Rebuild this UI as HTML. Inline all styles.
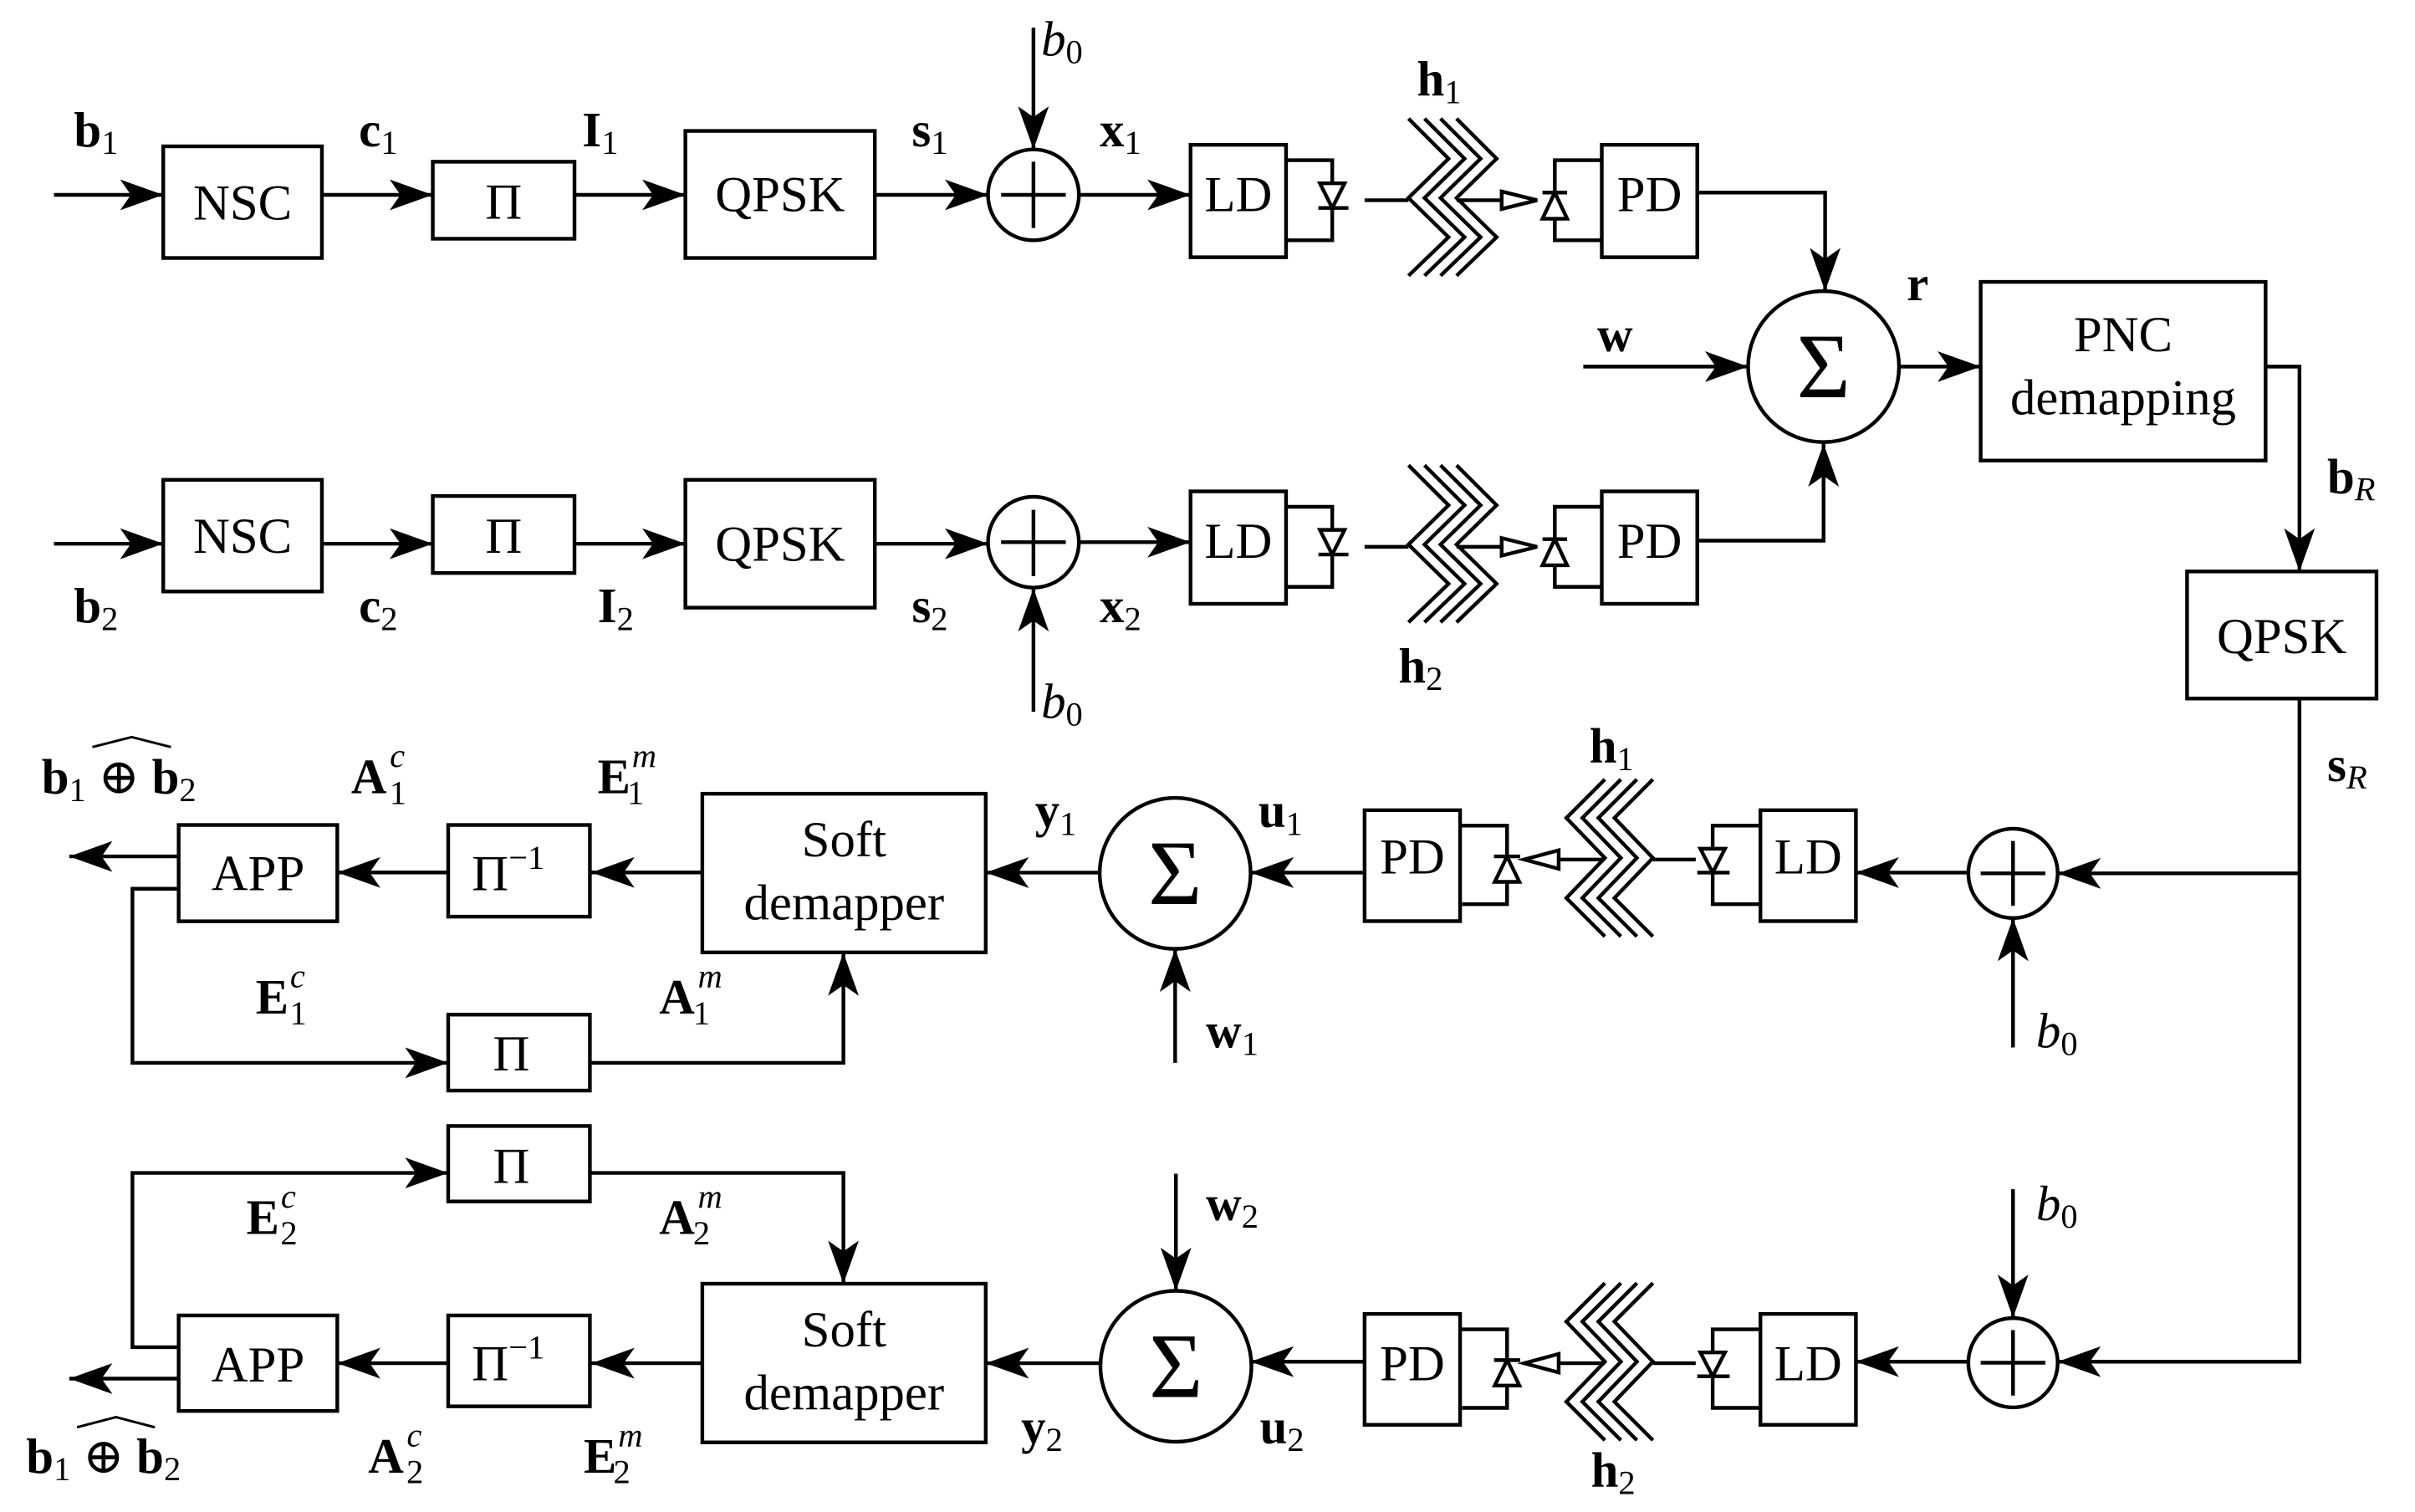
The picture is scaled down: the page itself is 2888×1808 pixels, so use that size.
<!DOCTYPE html>
<html><head><meta charset="utf-8"><style>
html,body{margin:0;padding:0;background:#fff;}
svg{display:block;}
svg text, svg tspan{font-family:"Liberation Serif","Times New Roman","DejaVu Serif",serif;fill:#000;}
.bx{font-size:33px;text-anchor:middle;}
.lb{font-size:32px;}
.b{font-weight:bold;}
.s{font-size:22px;}
.it{font-style:italic;}
</style></head><body>
<svg width="2888" height="1808" viewBox="0 0 1568 981.6" preserveAspectRatio="none" xmlns="http://www.w3.org/2000/svg" font-family="Liberation Serif, Times New Roman, DejaVu Serif, serif">
<defs>
<marker id="a" viewBox="-30 -12 32 24" refX="0" refY="0" markerWidth="32" markerHeight="24" orient="auto" markerUnits="userSpaceOnUse">
<path d="M0,0 L-28,-10 L-21,0 L-28,10 Z" fill="#000"/>
</marker>
<g id="blk1">
<rect x="773" y="94" width="62" height="73"/>
<polyline points="835,104 865,104 865,156 835,156"/>
<polygon points="857,119 873,119 865,135" fill="#fff"/>
<line x1="856" y1="135" x2="875.5" y2="135"/>
<line x1="886" y1="130" x2="914.5" y2="130"/>
<polyline points="914.5,77 940.5,103 914.5,128.5 940.5,154 914.5,179"/>
<polyline points="924.9,77 950.9,103 924.9,128.5 950.9,154 924.9,179"/>
<polyline points="935.3,77 961.3,103 935.3,128.5 961.3,154 935.3,179"/>
<polyline points="945.7,77 971.7,103 945.7,128.5 971.7,154 945.7,179"/>
<line x1="945.7" y1="130" x2="975" y2="130"/>
<polygon points="975,124.3 998,130 975,135.7" fill="#fff"/>
<polyline points="1040,104 1009.5,104 1009.5,156 1040,156"/>
<line x1="1001.5" y1="125" x2="1017.5" y2="125"/>
<polygon points="1001.5,142 1017.5,142 1009.5,125" fill="#fff"/>
<rect x="1040" y="94" width="62" height="73"/>
</g>
<g id="blk3">
<rect x="1143" y="526" width="62" height="72"/>
<polyline points="1143,536 1112,536 1112,587 1143,587"/>
<polygon points="1104,551 1120,551 1112,566.5" fill="#fff"/>
<line x1="1102" y1="566.5" x2="1123" y2="566.5"/>
<line x1="1101" y1="558" x2="1073.2" y2="558"/>
<polyline points="1042,506 1017,531 1042,557 1017,583 1042,608"/>
<polyline points="1052.4,506 1027.4,531 1052.4,557 1027.4,583 1052.4,608"/>
<polyline points="1062.8,506 1037.8,531 1062.8,557 1037.8,583 1062.8,608"/>
<polyline points="1073.2,506 1048.2,531 1073.2,557 1048.2,583 1073.2,608"/>
<line x1="1012" y1="558" x2="1042" y2="558"/>
<polygon points="1012,552 1012,564 989.6,558" fill="#fff"/>
<polyline points="948,536 978.5,536 978.5,587 948,587"/>
<line x1="970" y1="556" x2="987" y2="556"/>
<polygon points="970.5,572.5 986.5,572.5 978.5,556" fill="#fff"/>
<rect x="886" y="526" width="62" height="72"/>
</g>
</defs>

<g fill="none" stroke="#000" stroke-width="2.4">
<line x1="35" y1="126.5" x2="106" y2="126.5" marker-end="url(#a)"/>
<rect x="106" y="95" width="103" height="72.5"/>
<line x1="209" y1="126.5" x2="281" y2="126.5" marker-end="url(#a)"/>
<rect x="281" y="105" width="92" height="50"/>
<line x1="373" y1="126.5" x2="445" y2="126.5" marker-end="url(#a)"/>
<rect x="445" y="85" width="123" height="82.5"/>
<line x1="568" y1="126.5" x2="641.5" y2="126.5" marker-end="url(#a)"/>
<circle cx="671" cy="126.5" r="29.5"/>
<line x1="650" y1="126.5" x2="692" y2="126.5"/><line x1="671" y1="105" x2="671" y2="148"/>
<line x1="671" y1="18" x2="671" y2="97" marker-end="url(#a)"/>
<line x1="700.5" y1="126.5" x2="773" y2="126.5" marker-end="url(#a)"/>
<use href="#blk1"/>
<polyline points="1102,125 1185,125 1185,189" marker-end="url(#a)"/>

<line x1="35" y1="353" x2="106" y2="353" marker-end="url(#a)"/>
<rect x="106" y="311.5" width="103" height="72.5"/>
<line x1="209" y1="353" x2="281" y2="353" marker-end="url(#a)"/>
<rect x="281" y="322" width="92" height="50"/>
<line x1="373" y1="353" x2="445" y2="353" marker-end="url(#a)"/>
<rect x="445" y="311.5" width="123" height="83"/>
<line x1="568" y1="353" x2="641.5" y2="353" marker-end="url(#a)"/>
<circle cx="671" cy="352" r="29.5"/>
<line x1="650" y1="352" x2="692" y2="352"/><line x1="671" y1="331" x2="671" y2="374"/>
<line x1="671" y1="462" x2="671" y2="382" marker-end="url(#a)"/>
<line x1="700.5" y1="352" x2="773" y2="352" marker-end="url(#a)"/>
<use href="#blk1" transform="translate(0,225)"/>
<polyline points="1102,351 1184,351 1184,288" marker-end="url(#a)"/>

<circle cx="1184" cy="238" r="49"/>
<line x1="1028" y1="238" x2="1135" y2="238" marker-end="url(#a)"/>
<line x1="1233" y1="238" x2="1286" y2="238" marker-end="url(#a)"/>
<rect x="1286" y="183" width="185" height="116"/>
<polyline points="1471,238 1493,238 1493,371" marker-end="url(#a)"/>
<rect x="1420" y="371" width="123" height="82.5"/>
<polyline points="1493,453.5 1493,884 1336,884" marker-end="url(#a)"/>
<line x1="1493" y1="567" x2="1336" y2="567" marker-end="url(#a)"/>

<circle cx="1307" cy="567" r="29"/>
<line x1="1286" y1="567" x2="1328" y2="567"/><line x1="1307" y1="546" x2="1307" y2="588"/>
<line x1="1307" y1="680" x2="1307" y2="596" marker-end="url(#a)"/>
<line x1="1278" y1="566.5" x2="1205" y2="566.5" marker-end="url(#a)"/>
<use href="#blk3"/>
<line x1="886" y1="566.5" x2="812" y2="566.5" marker-end="url(#a)"/>
<circle cx="763" cy="567" r="49"/>
<line x1="763" y1="690" x2="763" y2="616" marker-end="url(#a)"/>
<line x1="714" y1="566.5" x2="640" y2="566.5" marker-end="url(#a)"/>
<rect x="456" y="515.3" width="184" height="103"/>
<line x1="456" y1="566.4" x2="384" y2="566.4" marker-end="url(#a)"/>
<rect x="291" y="535.6" width="92" height="59.5"/>
<line x1="291" y1="566.4" x2="219" y2="566.4" marker-end="url(#a)"/>
<rect x="116" y="535.6" width="103" height="62.5"/>
<line x1="116" y1="556" x2="45" y2="556" marker-end="url(#a)"/>
<polyline points="116,577 86,577 86,690 291,690" marker-end="url(#a)"/>
<rect x="291" y="658.7" width="92" height="49.3"/>
<polyline points="383,690 547.6,690 547.6,618.5" marker-end="url(#a)"/>

<circle cx="1307" cy="884.7" r="29"/>
<line x1="1286" y1="884.7" x2="1328" y2="884.7"/><line x1="1307" y1="863.5" x2="1307" y2="906"/>
<line x1="1307" y1="772" x2="1307" y2="855.5" marker-end="url(#a)"/>
<line x1="1278" y1="884" x2="1205" y2="884" marker-end="url(#a)"/>
<use href="#blk3" transform="translate(0,327)"/>
<line x1="886" y1="884" x2="812" y2="884" marker-end="url(#a)"/>
<circle cx="763.5" cy="887" r="49"/>
<line x1="763.5" y1="762" x2="763.5" y2="838" marker-end="url(#a)"/>
<line x1="714" y1="885" x2="640" y2="885" marker-end="url(#a)"/>
<rect x="456" y="833.4" width="184" height="103"/>
<line x1="456" y1="885" x2="384" y2="885" marker-end="url(#a)"/>
<rect x="291" y="854" width="92" height="59"/>
<line x1="291" y1="885" x2="219" y2="885" marker-end="url(#a)"/>
<rect x="116" y="854" width="103" height="62"/>
<line x1="116" y1="895" x2="45" y2="895" marker-end="url(#a)"/>
<polyline points="116,874.6 86,874.6 86,761.5 291,761.5" marker-end="url(#a)"/>
<rect x="291" y="731" width="92" height="49"/>
<polyline points="383,761.5 547.6,761.5 547.6,833.4" marker-end="url(#a)"/>

<polyline points="60,485 85.5,478.5 111,485" stroke-width="1.6"/>
<polyline points="50,926.6 75.3,920 100.5,926.6" stroke-width="1.6"/>
</g>

<g font-family="Liberation Serif, Times New Roman, DejaVu Serif, serif">
<text class="bx" x="157.5" y="142.5">NSC</text>
<text class="bx" x="327" y="142">Π</text>
<text class="bx" x="506.5" y="137">QPSK</text>
<text class="bx" x="804" y="137">LD</text>
<text class="bx" x="1071" y="137">PD</text>
<text class="bx" x="157.5" y="359">NSC</text>
<text class="bx" x="327" y="359">Π</text>
<text class="bx" x="506.5" y="364">QPSK</text>
<text class="bx" x="804" y="362">LD</text>
<text class="bx" x="1071" y="362">PD</text>
<text class="bx" x="1184" y="258" style="font-size:60px">Σ</text>
<text class="bx" x="1378.5" y="228">PNC</text>
<text class="bx" x="1378.5" y="269">demapping</text>
<text class="bx" x="1481.5" y="424">QPSK</text>
<text class="bx" x="1174" y="567">LD</text>
<text class="bx" x="917" y="567">PD</text>
<text class="bx" x="763" y="587" style="font-size:60px">Σ</text>
<text class="bx" x="548" y="556">Soft</text>
<text class="bx" x="548" y="597">demapper</text>
<text class="bx" x="330" y="578">Π<tspan font-size="22" dy="-14">−1</tspan></text>
<text class="bx" x="167.5" y="578">APP</text>
<text class="bx" x="332" y="695">Π</text>
<text class="bx" x="1174" y="896">LD</text>
<text class="bx" x="917" y="896">PD</text>
<text class="bx" x="763.5" y="907" style="font-size:60px">Σ</text>
<text class="bx" x="548" y="874">Soft</text>
<text class="bx" x="548" y="915">demapper</text>
<text class="bx" x="330" y="896">Π<tspan font-size="22" dy="-14">−1</tspan></text>
<text class="bx" x="167.5" y="897">APP</text>
<text class="bx" x="332" y="768">Π</text>

<text class="lb" x="48" y="95"><tspan class="b">b</tspan><tspan class="s" dy="5">1</tspan></text>
<text class="lb" x="233" y="95"><tspan class="b">c</tspan><tspan class="s" dy="5">1</tspan></text>
<text class="lb" x="378" y="95"><tspan class="b">I</tspan><tspan class="s" dy="5">1</tspan></text>
<text class="lb" x="592" y="95"><tspan class="b">s</tspan><tspan class="s" dy="5">1</tspan></text>
<text class="lb" x="714" y="95"><tspan class="b">x</tspan><tspan class="s" dy="5">1</tspan></text>
<text class="lb" x="676" y="36"><tspan class="it">b</tspan><tspan class="s" dy="5">0</tspan></text>
<text class="lb" x="920" y="62"><tspan class="b">h</tspan><tspan class="s" dy="5">1</tspan></text>
<text class="lb" x="1037" y="228"><tspan class="b">w</tspan></text>
<text class="lb" x="1238" y="195"><tspan class="b">r</tspan></text>
<text class="lb" x="1511" y="320"><tspan class="b">b</tspan><tspan class="s it" dy="5">R</tspan></text>
<text class="lb" x="1511" y="507"><tspan class="b">s</tspan><tspan class="s it" dy="5">R</tspan></text>

<text class="lb" x="48" y="404"><tspan class="b">b</tspan><tspan class="s" dy="5">2</tspan></text>
<text class="lb" x="233" y="404"><tspan class="b">c</tspan><tspan class="s" dy="5">2</tspan></text>
<text class="lb" x="388" y="404"><tspan class="b">I</tspan><tspan class="s" dy="5">2</tspan></text>
<text class="lb" x="592" y="404"><tspan class="b">s</tspan><tspan class="s" dy="5">2</tspan></text>
<text class="lb" x="714" y="404"><tspan class="b">x</tspan><tspan class="s" dy="5">2</tspan></text>
<text class="lb" x="676" y="466"><tspan class="it">b</tspan><tspan class="s" dy="5">0</tspan></text>
<text class="lb" x="908" y="443"><tspan class="b">h</tspan><tspan class="s" dy="5">2</tspan></text>

<text class="lb" x="1032" y="495"><tspan class="b">h</tspan><tspan class="s" dy="5">1</tspan></text>
<text class="lb" x="1322" y="680"><tspan class="it">b</tspan><tspan class="s" dy="5">0</tspan></text>
<text class="lb" x="817" y="537"><tspan class="b">u</tspan><tspan class="s" dy="5">1</tspan></text>
<text class="lb" x="672" y="537"><tspan class="b">y</tspan><tspan class="s" dy="5">1</tspan></text>
<text class="lb" x="783" y="680"><tspan class="b">w</tspan><tspan class="s" dy="5">1</tspan></text>
<text class="lb" x="27" y="515"><tspan class="b">b</tspan><tspan class="s" dy="5">1</tspan><tspan dy="-5"> ⊕ </tspan><tspan class="b">b</tspan><tspan class="s" dy="5">2</tspan></text>
<text class="lb" x="228" y="515"><tspan class="b">A</tspan><tspan class="s it" dx="2" dy="-17">c</tspan><tspan class="s" dx="-10" dy="24">1</tspan></text>
<text class="lb" x="388" y="515"><tspan class="b">E</tspan><tspan class="s it" dx="1" dy="-17">m</tspan><tspan class="s" dx="-19" dy="24">1</tspan></text>
<text class="lb" x="166" y="658"><tspan class="b">E</tspan><tspan class="s it" dx="1" dy="-17">c</tspan><tspan class="s" dx="-10" dy="24">1</tspan></text>
<text class="lb" x="428" y="658"><tspan class="b">A</tspan><tspan class="s it" dx="2" dy="-17">m</tspan><tspan class="s" dx="-19" dy="24">1</tspan></text>

<text class="lb" x="1322" y="792"><tspan class="it">b</tspan><tspan class="s" dy="5">0</tspan></text>
<text class="lb" x="783" y="792"><tspan class="b">w</tspan><tspan class="s" dy="5">2</tspan></text>
<text class="lb" x="818" y="937"><tspan class="b">u</tspan><tspan class="s" dy="5">2</tspan></text>
<text class="lb" x="663" y="937"><tspan class="b">y</tspan><tspan class="s" dy="5">2</tspan></text>
<text class="lb" x="1033" y="965"><tspan class="b">h</tspan><tspan class="s" dy="5">2</tspan></text>
<text class="lb" x="160" y="801"><tspan class="b">E</tspan><tspan class="s it" dx="1" dy="-17">c</tspan><tspan class="s" dx="-10" dy="24">2</tspan></text>
<text class="lb" x="428" y="801"><tspan class="b">A</tspan><tspan class="s it" dx="2" dy="-17">m</tspan><tspan class="s" dx="-19" dy="24">2</tspan></text>
<text class="lb" x="17" y="956"><tspan class="b">b</tspan><tspan class="s" dy="5">1</tspan><tspan dy="-5"> ⊕ </tspan><tspan class="b">b</tspan><tspan class="s" dy="5">2</tspan></text>
<text class="lb" x="239" y="956"><tspan class="b">A</tspan><tspan class="s it" dx="2" dy="-17">c</tspan><tspan class="s" dx="-10" dy="24">2</tspan></text>
<text class="lb" x="379" y="956"><tspan class="b">E</tspan><tspan class="s it" dx="1" dy="-17">m</tspan><tspan class="s" dx="-19" dy="24">2</tspan></text>
</g>
</svg>
</body></html>
